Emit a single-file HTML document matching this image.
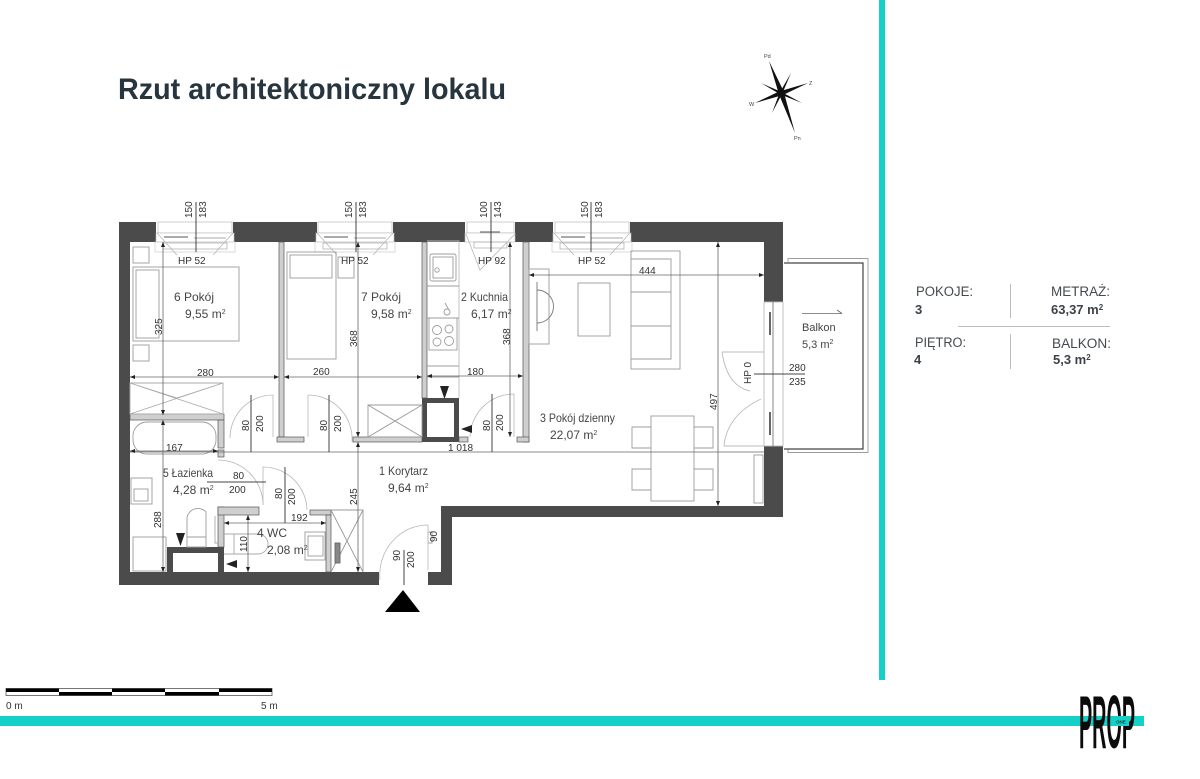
<!DOCTYPE html>
<html lang="pl"><head><meta charset="utf-8"><title>Rzut architektoniczny lokalu</title>
<style>
html,body{margin:0;padding:0;background:#fff}
svg{display:block}
text{font-family:"Liberation Sans",sans-serif}
.l{font-size:12px;fill:#444}
.d{font-size:10px;fill:#333}
.p{font-size:13.5px;fill:#444a4f}
.b{font-size:13px;font-weight:bold;fill:#3c4247}
.f{fill:none;stroke:#9c9c9c;stroke-width:.9}
.g{fill:none;stroke:#b8b8b8;stroke-width:.8}
.m{fill:none;stroke:#666;stroke-width:.8}
.k{fill:none;stroke:#444;stroke-width:1.2}
</style></head><body>
<svg width="1200" height="779" viewBox="0 0 1200 779" xmlns="http://www.w3.org/2000/svg">
<rect width="1200" height="779" fill="#fff"/>
<text x="118" y="99" font-size="30" font-weight="bold" fill="#27353e" textLength="388" lengthAdjust="spacingAndGlyphs">Rzut architektoniczny lokalu</text>

<!-- compass -->
<g fill="#111">
<polygon points="769,61 783.500,91 795,133 779,94.500"/>
<polygon points="808,83 783,95 755,103 779,91.500"/>
<polygon points="791,73 782.500,93 772,113 779.500,93"/>
<polygon points="761,83 781.500,92 802,103 780.500,94.500"/>
</g>
<g font-size="5.500" fill="#444"><text x="764" y="58">Pd</text><text x="809" y="85">Z</text><text x="749" y="106">W</text><text x="794" y="140">Pn</text></g>

<!-- bars -->
<rect x="879" y="0" width="6" height="680" fill="#15d0c6"/>
<rect x="0" y="716" width="1144" height="10" fill="#15d0c6"/>

<!-- scale -->
<rect x="6" y="688.500" width="266" height="7" fill="#fff" stroke="#555" stroke-width=".8"/>
<g fill="#000">
<rect x="6" y="688.500" width="53" height="3.500"/><rect x="59" y="692" width="53" height="3.500"/>
<rect x="112" y="688.500" width="53" height="3.500"/><rect x="165" y="692" width="54" height="3.500"/>
<rect x="219" y="688.500" width="53" height="3.500"/>
</g>
<text x="6" y="709" class="d" font-size="9.500">0 m</text><text x="261" y="709" class="d" font-size="9.500">5 m</text>

<!-- logo -->
<text transform="translate(1079,748) scale(1,2.78)" font-size="27" font-weight="bold" fill="#0b0b0b" textLength="56" lengthAdjust="spacingAndGlyphs">PROP</text>
<rect x="1114" y="716" width="15" height="10" fill="#15d0c6"/>
<text x="1116" y="723.500" font-size="4.500" font-weight="bold" fill="#0b3b3a">ONE</text>

<!-- info -->
<text x="916" y="296" class="p" textLength="57" lengthAdjust="spacingAndGlyphs">POKOJE:</text><text x="915" y="314" class="b">3</text>
<text x="1051" y="296" class="p" textLength="59" lengthAdjust="spacingAndGlyphs">METRAŻ:</text><text x="1051" y="314" class="b">63,37 m<tspan font-size="8" dy="-4">2</tspan></text>
<text x="915" y="347" class="p" textLength="51" lengthAdjust="spacingAndGlyphs">PIĘTRO:</text><text x="914" y="364" class="b">4</text>
<text x="1052" y="348" class="p" textLength="59" lengthAdjust="spacingAndGlyphs">BALKON:</text><text x="1053" y="364" class="b">5,3 m<tspan font-size="8" dy="-4">2</tspan></text>
<g stroke="#bbb" stroke-width="1"><line x1="1010.500" y1="284" x2="1010.500" y2="318"/><line x1="1010.500" y1="334" x2="1010.500" y2="369"/><line x1="958" y1="326.500" x2="1110" y2="326.500"/></g>

<!-- balcony -->
<path d="M788 262V258.500H868V452.500H788V449" class="f"/>
<path d="M784 263H863V449H784" class="k" stroke-width="1.500"/>
<path d="M802 313.500H842M837 310L842 313.500" class="m"/>

<!-- dark walls -->
<g fill="#4b4b4b">
<rect x="119" y="222" width="37" height="20"/>
<rect x="233" y="222" width="84" height="20"/>
<rect x="393" y="222" width="72" height="20"/>
<rect x="515" y="222" width="38" height="20"/>
<rect x="630" y="222" width="153" height="20"/>
<rect x="764" y="222" width="19" height="80"/>
<rect x="764" y="446" width="19" height="71"/>
<rect x="441" y="506" width="342" height="11"/>
<rect x="441" y="506" width="11" height="79"/>
<rect x="428" y="572" width="24" height="13"/>
<rect x="119" y="222" width="11" height="363"/>
<rect x="119" y="572" width="260" height="13"/>
<!-- chimney shafts -->
<path fill-rule="evenodd" d="M422 398H459V442H422ZM427 403V437H454V403Z"/>
<path fill-rule="evenodd" d="M167 547H224V573H167ZM173 553V572H218V553Z"/>
</g>

<!-- light walls -->
<g fill="#cfcfcf" stroke="#555" stroke-width=".7">
<rect x="279" y="242" width="5" height="195"/>
<rect x="277" y="437" width="27" height="5"/>
<rect x="422" y="242" width="5" height="156"/>
<rect x="353" y="437" width="69" height="5"/>
<rect x="459" y="437" width="9" height="5"/>
<rect x="523" y="242" width="6" height="200"/>
<rect x="517" y="437" width="12" height="5"/>
<rect x="130" y="414" width="94" height="6"/>
<rect x="218" y="420" width="6" height="28"/>
<rect x="218" y="450" width="6" height="7"/>
<rect x="218" y="507" width="6" height="40"/>
<rect x="218" y="507" width="41" height="8"/>
<rect x="310" y="510" width="21" height="5"/>
<rect x="326" y="515" width="5" height="57"/>
</g>

<!-- windows -->
<defs>
<g id="w"><rect x="2" y="0" width="74" height="11" fill="#fff" stroke="#bbb" stroke-width=".7"/>
<rect x="0" y="11" width="78" height="9" fill="#fff" stroke="#bbb" stroke-width=".6"/>
<line x1="8" y1="15" x2="32" y2="15" stroke="#777" stroke-width="1.200"/>
<line x1="38" y1="16" x2="70" y2="16" stroke="#aaa" stroke-width="1"/>
<rect x="-1" y="20" width="80" height="10" fill="none" stroke="#ccc" stroke-width=".7"/>
<rect x="7" y="21" width="64" height="6" fill="none" stroke="#aaa" stroke-width=".7"/>
<path d="M1 11L21 33M77 11L57 33" class="g"/></g>
</defs>
<use href="#w" transform="translate(156,222)"/>
<use href="#w" transform="translate(316,222)"/>
<use href="#w" transform="translate(553,222)"/>
<g>
<rect x="467" y="222" width="47" height="11" fill="#fff" stroke="#bbb" stroke-width=".7"/>
<rect x="465" y="233" width="50" height="9" fill="#fff" stroke="#bbb" stroke-width=".6"/>
<line x1="480" y1="232" x2="500" y2="232" stroke="#777" stroke-width="1.200"/>
<rect x="474" y="242" width="33" height="6" fill="none" stroke="#aaa" stroke-width=".7"/>
<path d="M466 234L480 270L515 234" class="g"/>
</g>

<!-- furniture: room 6 -->
<g class="f">
<rect x="133" y="247" width="16" height="16"/>
<rect x="133" y="267" width="106" height="74"/>
<rect x="136" y="270" width="23" height="68"/>
<rect x="133" y="345" width="16" height="16"/>
<!-- room 7 -->
<rect x="287" y="252" width="49" height="107"/>
<rect x="290" y="255" width="42" height="23"/>
<rect x="338" y="257" width="16" height="21"/>
<!-- shower 6 -->
<path d="M130 383H223V414H130ZM130 383L177 398L223 383M130 414L223 383M130 383L223 414" stroke="#aaa"/>
<!-- bath -->
<rect x="133" y="422" width="83" height="32" rx="14"/>
<!-- shower 7 -->
<path d="M368 405H422V437H368ZM368 405L422 437M422 405L368 437" stroke="#999"/>
<!-- kitchen -->
<path d="M427 241H459V398" stroke="#bbb"/>
<rect x="430" y="254" width="26" height="27" rx="2"/>
<rect x="433" y="257" width="20" height="21"/>
<circle cx="437" cy="270" r="2.200"/>
<path d="M427 286H459M427 318H459M427 366H459M427 377H459"/>
<rect x="429" y="318" width="28" height="32"/>
<circle cx="437" cy="330" r="4.500"/><circle cx="449" cy="329" r="4"/>
<circle cx="437" cy="342" r="4"/><circle cx="449" cy="341" r="4.500"/>
<circle cx="447" cy="312" r="3"/><path d="M445 303L449 310"/>
<!-- living -->
<rect x="529" y="269" width="20" height="75"/>
<path d="M537 282V331M537 290A16 16 0 0 1 537 323" stroke="#777"/>
<rect x="578" y="283" width="32" height="53"/>
<rect x="631" y="251" width="49" height="118"/>
<path d="M631 259H671V359H631M631 292H671M631 326H671M671 259V359"/>
<rect x="651" y="416" width="43" height="85"/>
<path d="M651 427H632V448H651M694 427H713V448H694M651 469H632V490H651M694 469H713V490H694"/>
<rect x="754" y="455" width="9" height="48"/>
<!-- balcony door -->
<rect x="764" y="302" width="19" height="144" stroke="#bbb"/>
<line x1="773" y1="302" x2="773" y2="446" stroke="#777"/>
<path d="M770 312V335M770 412V435" stroke="#666" stroke-width="2"/>
<path d="M722 352H764M722 352Q727 386 750 391M724 446Q727 415 761 399M724 446H764" stroke="#bbb"/>
<!-- bathroom -->
<rect x="131" y="478" width="21" height="26"/>
<rect x="134" y="489" width="14" height="12"/>
<rect x="133" y="537" width="33" height="34"/>
<path d="M187 537V518A11 11 0 0 1 206 512V537ZM187 537H206V547H187Z"/>
<!-- WC -->
<path d="M224 534H258A5 5 0 0 1 258 554H224M234 534V554M215 516V543H218" stroke="#aaa"/>
<rect x="305" y="532" width="20" height="28"/>
<rect x="308" y="536" width="15" height="20"/>
<!-- closet -->
<path d="M331 510H363V572M331 510L363 572M363 510L331 572" stroke="#999"/>
<rect x="335" y="543" width="5" height="20" fill="#888" stroke="#666"/>
<!-- entry -->
<rect x="428" y="532" width="4" height="11"/>
</g>

<!-- doors -->
<g class="g">
<path d="M230 438A43 43 0 0 1 273 395"/>
<path d="M308 395A44 44 0 0 1 352 442"/>
<path d="M514 394A44 44 0 0 0 470 437M514 394V437"/>
<path d="M218 460A45 45 0 0 1 263 505"/>
<path d="M263 467A44 44 0 0 1 307 510M263 467V505"/>
<path d="M380 580A48 50 0 0 1 428 525V570"/>
<path d="M308 395V437M273 395V437"/>
</g>

<!-- dimension lines -->
<g class="m">
<path d="M130 377H279M284 377H422M427 376H523"/>
<path d="M163 242V415M163 420V572M358 242V437M358 442V572M510 242V437M718 242V506"/>
<path d="M529 275H764M130 452H764"/>
<path d="M130 451H218M224 523H326M248 515V572"/>
</g>
<g stroke="#444" stroke-width="1">
<path d="M196 202V252M356 202V252M491 202V252M591 202V252"/>
<path d="M251 395V452M329 395V452M492 394V452M207 482H266M285 467V523M404 550V585M754 374H805"/>
</g>

<!-- ticks -->
<g fill="#222">
<path d="M130 377l5-2v4zM279 377l-5-2v4zM284 377l5-2v4zM422 377l-5-2v4zM427 376l5-2v4zM523 376l-5-2v4z"/>
<path d="M529 275l5-2v4zM764 275l-5-2v4zM130 451l5-2v4zM218 451l-5-2v4zM224 523l5-2v4zM326 523l-5-2v4z"/>
<path d="M163 242l-2 5h4zM163 415l-2-5h4zM163 420l-2 5h4zM163 572l-2-5h4zM358 242l-2 5h4zM358 437l-2-5h4zM358 442l-2 5h4zM358 572l-2-5h4z"/>
<path d="M510 242l-2 5h4zM510 437l-2-5h4zM718 242l-2 5h4zM718 506l-2-5h4zM248 515l-2 5h4zM248 572l-2-5h4z"/>
<path d="M176 533h9l-4.500 13zM440 386h9l-4.500 13z"/>
<path d="M226 564l11-4v8zM461 429l11-4v8z"/>
<polygon points="385,612 403,590 420,612" fill="#000"/>
</g>

<!-- room labels -->
<g class="l">
<text x="174" y="301">6 Pokój</text><text x="185" y="318">9,55 m<tspan font-size="7" dy="-4">2</tspan></text>
<text x="361" y="301">7 Pokój</text><text x="371" y="318">9,58 m<tspan font-size="7" dy="-4">2</tspan></text>
<text x="461" y="301" textLength="47" lengthAdjust="spacingAndGlyphs">2 Kuchnia</text><text x="471" y="318">6,17 m<tspan font-size="7" dy="-4">2</tspan></text>
<text x="540" y="422" textLength="75" lengthAdjust="spacingAndGlyphs">3 Pokój dzienny</text><text x="550" y="439">22,07 m<tspan font-size="7" dy="-4">2</tspan></text>
<text x="802" y="331" font-size="11">Balkon</text><text x="802" y="348" font-size="11">5,3 m<tspan font-size="7" dy="-4">2</tspan></text>
<text x="379" y="475" textLength="49" lengthAdjust="spacingAndGlyphs">1 Korytarz</text><text x="388" y="492">9,64 m<tspan font-size="7" dy="-4">2</tspan></text>
<text x="163" y="477" textLength="50" lengthAdjust="spacingAndGlyphs">5 Łazienka</text><text x="173" y="494">4,28 m<tspan font-size="7" dy="-4">2</tspan></text>
<text x="257" y="537">4 WC</text><text x="267" y="554">2,08 m<tspan font-size="7" dy="-4">2</tspan></text>
</g>

<!-- dimension text -->
<g class="d">
<text x="197" y="376">280</text><text x="313" y="375">260</text><text x="467" y="375">180</text>
<text x="639" y="274">444</text><text x="448" y="451">1 018</text>
<text x="166" y="451">167</text><text x="291" y="521">192</text>
<text x="233" y="479">80</text><text x="229" y="493">200</text>
<text x="178" y="264">HP 52</text><text x="341" y="264">HP 52</text><text x="478" y="264">HP 92</text><text x="578" y="264">HP 52</text>
<text x="789" y="371">280</text><text x="789" y="385">235</text>
<text transform="translate(192,218) rotate(-90)">150</text><text transform="translate(206,218) rotate(-90)">183</text>
<text transform="translate(352,218) rotate(-90)">150</text><text transform="translate(366,218) rotate(-90)">183</text>
<text transform="translate(487,218) rotate(-90)">100</text><text transform="translate(501,218) rotate(-90)">143</text>
<text transform="translate(588,218) rotate(-90)">150</text><text transform="translate(602,218) rotate(-90)">183</text>
<text transform="translate(162,335) rotate(-90)">325</text>
<text transform="translate(357,347) rotate(-90)">368</text>
<text transform="translate(510,345) rotate(-90)">368</text>
<text transform="translate(717,410) rotate(-90)">497</text>
<text transform="translate(161,528) rotate(-90)">288</text>
<text transform="translate(357,505) rotate(-90)">245</text>
<text transform="translate(247,552) rotate(-90)">110</text>
<text transform="translate(249,431) rotate(-90)">80</text><text transform="translate(263,432) rotate(-90)">200</text>
<text transform="translate(327,431) rotate(-90)">80</text><text transform="translate(341,432) rotate(-90)">200</text>
<text transform="translate(490,431) rotate(-90)">80</text><text transform="translate(503,431) rotate(-90)">200</text>
<text transform="translate(282,499) rotate(-90)">80</text><text transform="translate(295,505) rotate(-90)">200</text>
<text transform="translate(400,561) rotate(-90)">90</text><text transform="translate(414,568) rotate(-90)">200</text>
<text transform="translate(437,542) rotate(-90)">90</text>
<text transform="translate(751,384) rotate(-90)">HP 0</text>
</g>
</svg>
</body></html>
